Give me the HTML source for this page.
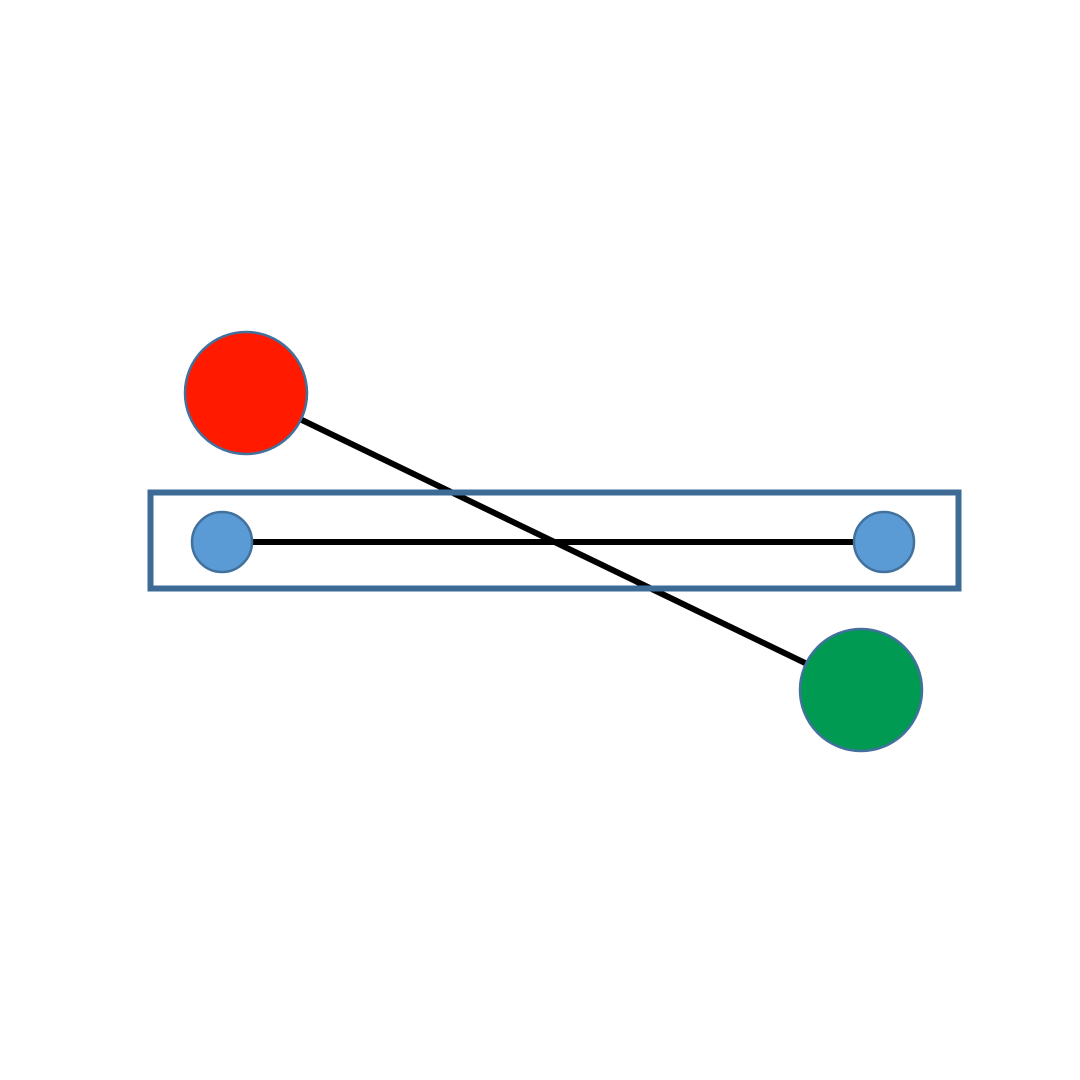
<!DOCTYPE html>
<html>
<head>
<meta charset="utf-8">
<style>
  html, body { margin: 0; padding: 0; background: #ffffff; }
  svg { display: block; }
</style>
</head>
<body>
<svg width="1080" height="1080" viewBox="0 0 1080 1080" xmlns="http://www.w3.org/2000/svg">
  <rect x="0" y="0" width="1080" height="1080" fill="#ffffff"/>
  <line x1="246" y1="393" x2="861" y2="690" stroke="#000000" stroke-width="6"/>
  <rect x="150.5" y="492.5" width="808" height="96" fill="none" stroke="#3e6b96" stroke-width="6"/>
  <line x1="222" y1="542" x2="884" y2="542" stroke="#000000" stroke-width="6"/>
  <circle cx="246" cy="393" r="61" fill="#ff1a00" stroke="#41719c" stroke-width="2.5"/>
  <circle cx="861" cy="690" r="61" fill="#009a52" stroke="#41719c" stroke-width="2.5"/>
  <circle cx="222" cy="542" r="30" fill="#5b9bd5" stroke="#41719c" stroke-width="2.5"/>
  <circle cx="884" cy="542" r="30" fill="#5b9bd5" stroke="#41719c" stroke-width="2.5"/>
</svg>
</body>
</html>
